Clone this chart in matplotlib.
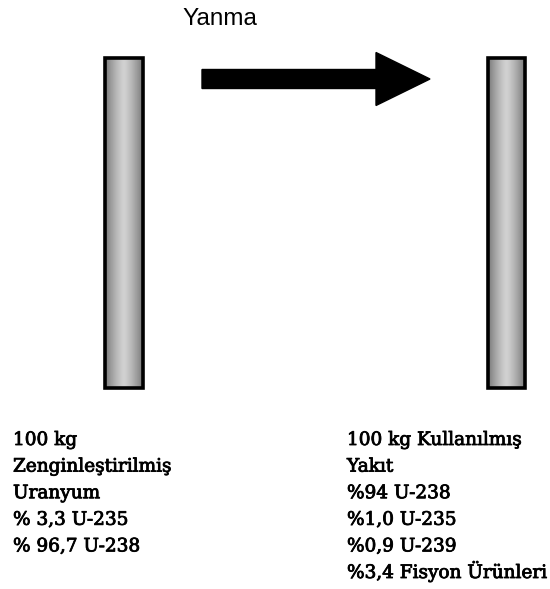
import matplotlib
matplotlib.use("Agg")
import matplotlib.pyplot as plt
import matplotlib.patheffects as pe
import numpy as np
from matplotlib.patches import Rectangle, FancyArrow

# TEXT CONTENT
process_label = "Yanma"
fresh_fuel = ["100 kg", "Zenginleştirilmiş", "Uranyum", "% 3,3 U-235", "% 96,7 U-238"]
spent_fuel = ["100 kg Kullanılmış", "Yakıt", "%94 U-238", "%1,0 U-235", "%0,9 U-239",
              "%3,4 Fisyon Ürünleri"]

W, H = 550, 589
fig = plt.figure(figsize=(W / 100, H / 100), dpi=100)
ax = fig.add_axes([0, 0, 1, 1])
ax.set_xlim(0, W)
ax.set_ylim(H, 0)
ax.axis("off")

# CYLINDER SHADING - BRIGHT STRIPE IN THE MIDDLE, DARKER EDGES
u = np.linspace(-1, 1, 60)
shade = 0.82 - 0.34 * np.abs(u) ** 1.3
grad = np.tile(shade, (200, 1))


def rod(x0, x1, y0, y1):
    ax.imshow(grad, cmap="gray", vmin=0, vmax=1, extent=(x0, x1, y1, y0),
              aspect="auto", interpolation="bilinear", zorder=1)
    ax.add_patch(Rectangle((x0, y0), x1 - x0, y1 - y0, fill=False,
                           edgecolor="black", linewidth=2.6, zorder=2))


rod(105, 143, 58, 388)
rod(488, 525, 58, 388)

# ARROW
ax.add_patch(FancyArrow(202, 79, 228, 0, width=19, head_width=53, head_length=54,
                        length_includes_head=True, color="black", zorder=3))
ax.text(182, 25, process_label, fontsize=17.5, family="Liberation Sans",
        va="baseline", ha="left")

# SLIGHTLY HEAVIER STROKE TO MATCH THE SCANNED SERIF TEXT
serif = dict(fontsize=13.3, family="DejaVu Serif", va="baseline", ha="left",
             path_effects=[pe.withStroke(linewidth=0.6, foreground="black")])
for i, line in enumerate(fresh_fuel):
    ax.text(13, 445 + i * 26.6, line, **serif)
for i, line in enumerate(spent_fuel):
    ax.text(347, 445 + i * 26.6, line, **serif)

fig.savefig("out.png", dpi=100)
